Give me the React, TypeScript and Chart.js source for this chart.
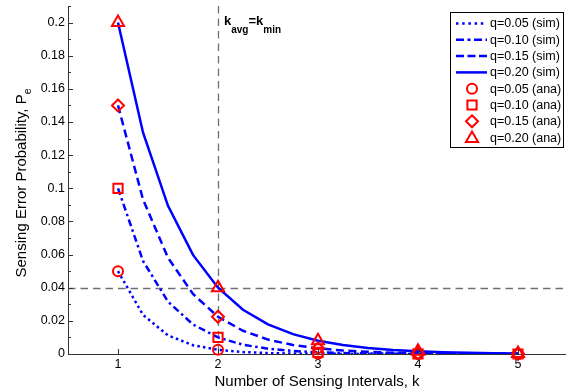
import React, { useEffect, useRef } from 'react';
import { Chart, registerables } from 'chart.js';

Chart.register(...registerables);

// ---------- data ----------
const K_SIM = [1, 1.25, 1.5, 1.75, 2, 2.25, 2.5, 2.75, 3, 3.25, 3.5, 3.75, 4, 4.25, 4.5, 4.75, 5];
const SIM_Q005 = [0.05, 0.0236, 0.0112, 0.0053, 0.0025, 0.00118, 0.00056, 0.00026, 0.000125, 0.00006, 0.000028, 0.000013, 0.0000063, 0.000003, 0.0000014, 0.0000007, 0.0000003];
const SIM_Q010 = [0.1, 0.0562, 0.0316, 0.0178, 0.01, 0.0056, 0.0032, 0.0018, 0.001, 0.00056, 0.00032, 0.00018, 0.0001, 0.000056, 0.000032, 0.000018, 0.00001];
const SIM_Q015 = [0.15, 0.0933, 0.0581, 0.0362, 0.0225, 0.014, 0.0087, 0.0054, 0.0034, 0.0021, 0.0013, 0.0008, 0.0005, 0.0003, 0.0002, 0.00012, 0.00008];
const SIM_Q020 = [0.2, 0.1337, 0.0894, 0.0598, 0.04, 0.0267, 0.0179, 0.012, 0.008, 0.0054, 0.0036, 0.0024, 0.0016, 0.0011, 0.0007, 0.0005, 0.0003];

const K_ANA = [1, 2, 3, 4, 5];
const ANA_Q005 = [0.05, 0.0025, 0.000125, 0.0000063, 0.0000003];
const ANA_Q010 = [0.1, 0.01, 0.001, 0.0001, 0.00001];
const ANA_Q015 = [0.15, 0.0225, 0.0034, 0.0005, 0.00008];
const ANA_Q020 = [0.2, 0.04, 0.008, 0.0016, 0.0003];

const SIM_LABELS = ['q=0.05 (sim)', 'q=0.10 (sim)', 'q=0.15 (sim)', 'q=0.20 (sim)'];
const ANA_LABELS = ['q=0.05 (ana)', 'q=0.10 (ana)', 'q=0.15 (ana)', 'q=0.20 (ana)'];

const X_TICKS = [1, 2, 3, 4, 5];
const X_TICK_LABELS = ['1', '2', '3', '4', '5'];
const Y_TICKS = [0, 0.02, 0.04, 0.06, 0.08, 0.1, 0.12, 0.14, 0.16, 0.18, 0.2];
const Y_TICK_LABELS = ['0', '0.02', '0.04', '0.06', '0.08', '0.1', '0.12', '0.14', '0.16', '0.18', '0.2'];
const Y_MINOR_TICKS = [0.01, 0.03, 0.05, 0.07, 0.09, 0.11, 0.13, 0.15, 0.17, 0.19, 0.21];

const THRESHOLD_PE = 0.04;
const K_MIN = 2;

const X_TITLE = 'Number of Sensing Intervals, k';
const Y_TITLE_MAIN = 'Sensing Error Probability, P';
const Y_TITLE_SUB = 'e';

// ---------- styles ----------
const FONT = '"Liberation Sans", Arial, Helvetica, sans-serif';
const BLUE = '#0000FF';
const RED = '#FF0000';
const SIM_DASHES = [[2.5, 3.2], [7, 3.5, 2.5, 3.5], [8, 4.5], []];
const LEGEND_DASHES = [[2.5, 3.7], [8, 3.5, 3, 3.5], [8, 3.5], []];
const ANA_STYLES = ['circle', 'rect', 'rectRot', 'triangle'];
const ANA_RADII = [5, 6.5, 6, 7];

function drawMarker(ctx: CanvasRenderingContext2D, style: string, x: number, y: number, r: number) {
  ctx.beginPath();
  if (style === 'circle') {
    ctx.arc(x, y, r, 0, Math.PI * 2);
  } else if (style === 'rect') {
    const s = Math.SQRT1_2 * r;
    ctx.rect(x - s, y - s, 2 * s, 2 * s);
  } else if (style === 'rectRot') {
    ctx.moveTo(x, y - r);
    ctx.lineTo(x + r, y);
    ctx.lineTo(x, y + r);
    ctx.lineTo(x - r, y);
    ctx.closePath();
  } else {
    ctx.moveTo(x, y - r);
    ctx.lineTo(x + 0.866 * r, y + 0.5 * r);
    ctx.lineTo(x - 0.866 * r, y + 0.5 * r);
    ctx.closePath();
  }
  ctx.stroke();
}

type Part = { t: string; sub?: boolean };
function drawRich(ctx: CanvasRenderingContext2D, parts: Part[], x: number, y: number, align: 'left' | 'center', mainFont: string, subFont: string, subDy: number) {
  const widths = parts.map((p) => {
    ctx.font = p.sub ? subFont : mainFont;
    return ctx.measureText(p.t).width;
  });
  const total = widths.reduce((a, b) => a + b, 0);
  let cx = align === 'center' ? x - total / 2 : x;
  ctx.textAlign = 'left';
  ctx.textBaseline = 'alphabetic';
  parts.forEach((p, i) => {
    ctx.font = p.sub ? subFont : mainFont;
    ctx.fillText(p.t, cx, y + (p.sub ? subDy : 0));
    cx += widths[i];
  });
}

const overlayPlugin = {
  id: 'overlay',
  beforeDatasetsDraw(chart: any) {
    const { ctx, chartArea: a, scales } = chart;
    const xs = scales.x;
    const ys = scales.y;
    ctx.save();
    ctx.strokeStyle = '#707070';
    ctx.lineWidth = 1.3;
    ctx.setLineDash([7.5, 5]);
    const yy = Math.round(ys.getPixelForValue(THRESHOLD_PE)) + 0.5;
    ctx.beginPath();
    ctx.moveTo(a.left, yy);
    ctx.lineTo(a.right, yy);
    ctx.stroke();
    const xx = Math.round(xs.getPixelForValue(K_MIN)) + 0.5;
    ctx.beginPath();
    ctx.moveTo(xx, a.top);
    ctx.lineTo(xx, a.bottom);
    ctx.stroke();
    ctx.restore();
  },
  afterDraw(chart: any) {
    const { ctx, chartArea: a, scales } = chart;
    const xs = scales.x;
    const ys = scales.y;
    ctx.save();
    // tick marks (inward)
    ctx.strokeStyle = '#333';
    ctx.lineWidth = 1;
    ctx.setLineDash([]);
    ctx.beginPath();
    Y_TICKS.forEach((v) => {
      const p = Math.round(ys.getPixelForValue(v)) + 0.5;
      ctx.moveTo(a.left, p);
      ctx.lineTo(a.left + 5, p);
    });
    Y_MINOR_TICKS.forEach((v) => {
      const p = Math.round(ys.getPixelForValue(v)) + 0.5;
      ctx.moveTo(a.left, p);
      ctx.lineTo(a.left + 3, p);
    });
    X_TICKS.forEach((v) => {
      const p = Math.round(xs.getPixelForValue(v)) + 0.5;
      ctx.moveTo(p, a.bottom);
      ctx.lineTo(p, a.bottom - 5);
    });
    ctx.stroke();

    // axis titles
    ctx.fillStyle = '#000';
    drawRich(ctx, [{ t: X_TITLE }], (a.left + a.right) / 2, 386, 'center', `15px ${FONT}`, `10px ${FONT}`, 4);
    ctx.save();
    ctx.translate(26, (a.top + a.bottom) / 2 + 3);
    ctx.rotate(-Math.PI / 2);
    drawRich(ctx, [{ t: Y_TITLE_MAIN }, { t: Y_TITLE_SUB, sub: true }], 0, 0, 'center', `15px ${FONT}`, `10.5px ${FONT}`, 4.5);
    ctx.restore();

    // annotation k_avg = k_min
    const ax = xs.getPixelForValue(K_MIN) + 6;
    drawRich(
      ctx,
      [{ t: 'k' }, { t: 'avg', sub: true }, { t: '=k' }, { t: 'min', sub: true }],
      ax,
      25,
      'left',
      `bold 13px ${FONT}`,
      `bold 10px ${FONT}`,
      8
    );

    // legend
    const bx = 450.5, by = 12.5, bw = 113, bh = 135;
    ctx.fillStyle = '#fff';
    ctx.fillRect(bx, by, bw, bh);
    ctx.strokeStyle = '#000';
    ctx.lineWidth = 1;
    ctx.strokeRect(bx, by, bw, bh);
    const rowY = (i: number) => 23.5 + i * 16.3;
    ctx.font = `12.5px ${FONT}`;
    ctx.textAlign = 'left';
    ctx.textBaseline = 'middle';
    SIM_LABELS.forEach((lab, i) => {
      const y = rowY(i);
      ctx.strokeStyle = BLUE;
      ctx.lineWidth = 2.5;
      ctx.setLineDash(LEGEND_DASHES[i]);
      ctx.beginPath();
      ctx.moveTo(456, y);
      ctx.lineTo(487, y);
      ctx.stroke();
      ctx.setLineDash([]);
      ctx.fillStyle = '#000';
      ctx.fillText(lab, 490, y + 0.5);
    });
    ANA_LABELS.forEach((lab, j) => {
      const y = rowY(j + 4);
      ctx.strokeStyle = RED;
      ctx.lineWidth = 2;
      ctx.setLineDash([]);
      drawMarker(ctx, ANA_STYLES[j], 472, j === 3 ? y + 1 : y, ANA_RADII[j]);
      ctx.fillStyle = '#000';
      ctx.fillText(lab, 490, y + 0.5);
    });
    ctx.restore();
  },
};

export default function App() {
  const ref = useRef<HTMLCanvasElement | null>(null);
  useEffect(() => {
    const canvas = ref.current;
    if (!canvas) return;
    const sims = [SIM_Q005, SIM_Q010, SIM_Q015, SIM_Q020];
    const anas = [ANA_Q005, ANA_Q010, ANA_Q015, ANA_Q020];
    const datasets: any[] = [];
    sims.forEach((vals, i) => {
      datasets.push({
        label: SIM_LABELS[i],
        data: K_SIM.map((k, j) => ({ x: k, y: vals[j] })),
        borderColor: BLUE,
        borderWidth: 2.5,
        borderDash: SIM_DASHES[i],
        pointRadius: 0,
        tension: 0,
        fill: false,
        order: 2,
      });
    });
    anas.forEach((vals, i) => {
      datasets.push({
        label: ANA_LABELS[i],
        data: K_ANA.map((k, j) => ({ x: k, y: vals[j] })),
        showLine: false,
        pointStyle: ANA_STYLES[i],
        pointRadius: ANA_RADII[i],
        pointBorderWidth: 2,
        pointBorderColor: RED,
        pointBackgroundColor: 'rgba(0,0,0,0)',
        borderColor: RED,
        clip: false,
        order: 1,
      });
    });
    const chart = new Chart(canvas, {
      type: 'line',
      data: { datasets },
      options: {
        responsive: false,
        animation: false,
        events: [],
        layout: { autoPadding: false, padding: { top: 6, left: 0, right: 0, bottom: 0 } },
        plugins: { legend: { display: false }, tooltip: { enabled: false } },
        scales: {
          x: {
            type: 'linear',
            min: 0.5,
            max: 5.48,
            afterFit: (s: any) => {
              s.height = 37;
              s.paddingLeft = 0;
              s.paddingRight = 0;
            },
            afterBuildTicks: (s: any) => {
              s.ticks = X_TICKS.map((v) => ({ value: v }));
            },
            grid: { display: false, drawTicks: false },
            border: { display: true, color: '#333', width: 1 },
            ticks: {
              color: '#000',
              font: { family: FONT, size: 12.5 },
              padding: 3,
              maxRotation: 0,
              autoSkip: false,
              callback: (v: any) => X_TICK_LABELS[X_TICKS.indexOf(v)] ?? '',
            },
          },
          y: {
            type: 'linear',
            min: 0,
            max: 0.21,
            afterFit: (s: any) => {
              s.width = 68;
              s.paddingTop = 0;
              s.paddingBottom = 0;
            },
            afterBuildTicks: (s: any) => {
              s.ticks = Y_TICKS.map((v) => ({ value: v }));
            },
            grid: { display: false, drawTicks: false },
            border: { display: true, color: '#333', width: 1 },
            ticks: {
              color: '#000',
              font: { family: FONT, size: 12.5 },
              padding: 3,
              autoSkip: false,
              callback: (v: any) => Y_TICK_LABELS[Y_TICKS.indexOf(v)] ?? '',
            },
          },
        },
      } as any,
      plugins: [overlayPlugin],
    });
    return () => chart.destroy();
  }, []);
  return (
    <div style={{ position: 'fixed', left: 0, top: 0, width: 566, height: 391, background: '#fff' }}>
      <canvas ref={ref} width={566} height={391} style={{ display: 'block' }} />
    </div>
  );
}
